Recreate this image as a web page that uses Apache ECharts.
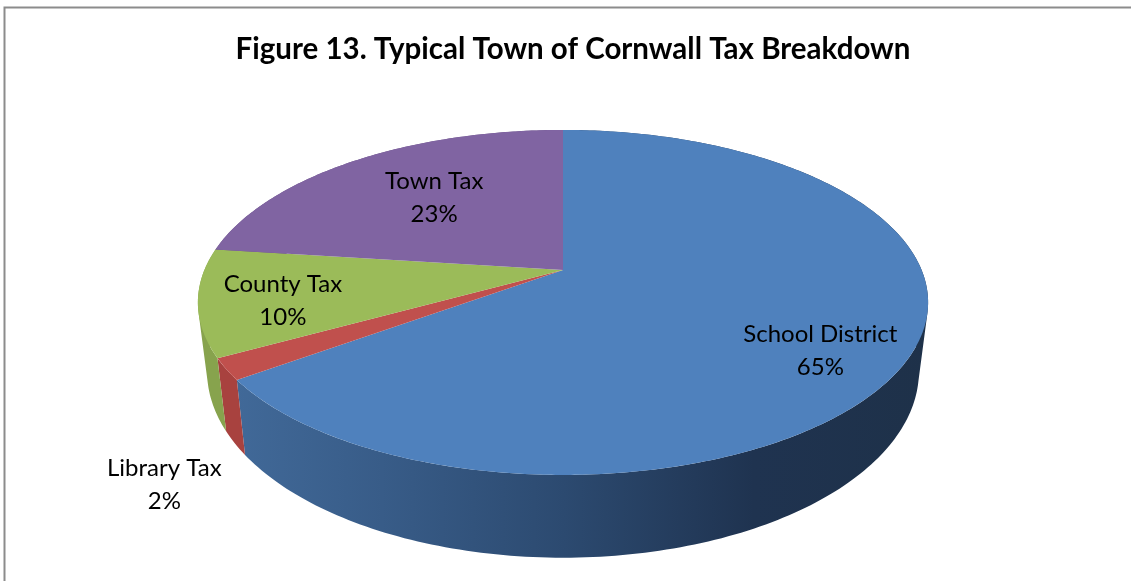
<!DOCTYPE html>
<html>
<head>
<meta charset="utf-8">
<style>html,body{margin:0;padding:0;background:#fff}#chart{width:1131px;height:581px}</style>
<script src="https://cdn.jsdelivr.net/npm/echarts@6/dist/echarts.min.js"></script>
</head>
<body>
<div id="chart"></div>
<script>
// Share of a typical Town of Cornwall tax bill, clockwise from twelve o'clock.
const categories = ['School District', 'Library Tax', 'County Tax', 'Town Tax'];
const shares = [65, 2, 10, 23];
const chartTitle = 'Figure 13. Typical Town of Cornwall Tax Breakdown';

const topColors = ['#4f81bd', '#c0504d', '#9bbb59', '#8064a2'];
const FONT = 'Lato, "Open Sans", sans-serif';

// Perspective disc: top face and the smaller, lower rim of the cylinder.
const view = { cx: 563, k: -0.188 };
const topFace = { y: 270, a: 358.6, b: 166.4 };
const baseFace = { y: 336, a: 349.6, b: 180 };
// Label centre, relative to the rim point at each slice's middle angle.
const labelNudge = [[-92, -2], [-62, 116], [85, -2], [79, 37]];

function project(face, deg) {
  const t = deg * Math.PI / 180;
  const u = Math.sin(t), v = -Math.cos(t), w = 1 + view.k * v;
  return [view.cx + face.a * u / w, face.y + face.b * v / w];
}

function sliceRange(index) {
  let start = 0;
  for (let i = 0; i < index; i++) start += shares[i];
  return [start * 3.6, (start + shares[index]) * 3.6];
}

function wallFill(index) {
  const g = (stops) => new echarts.graphic.LinearGradient(200, 0, 928, 0, stops, true);
  return [
    g([{ offset: 0, color: '#436c9c' }, { offset: 0.25, color: '#385c88' }, { offset: 0.5, color: '#2c4a70' },
       { offset: 0.76, color: '#1f3350' }, { offset: 1, color: '#1e3149' }]),
    '#a8423f',
    '#87a34d',
    '#6b5488'
  ][index];
}

// Rim wall as one path of small quads so the side silhouette stays straight.
function wallPath(index) {
  const [a0, a1] = sliceRange(index);
  const steps = Math.max(2, Math.ceil(a1 - a0));
  let d = '';
  for (let i = 0; i < steps; i++) {
    const s = a0 + (a1 - a0) * i / steps;
    const e = a0 + (a1 - a0) * (i + 1) / steps;
    const q = [project(topFace, s), project(topFace, e), project(baseFace, e), project(baseFace, s)];
    let area = 0;
    q.forEach((p, j) => {
      const n = q[(j + 1) % 4];
      area += p[0] * n[1] - n[0] * p[1];
    });
    if (area < 0) q.reverse();
    d += 'M' + q.map((p) => p[0].toFixed(2) + ' ' + p[1].toFixed(2)).join('L') + 'Z';
  }
  return d;
}

function topPoints(index) {
  const [a0, a1] = sliceRange(index);
  const pts = [[view.cx, topFace.y]];
  const steps = Math.max(2, Math.ceil((a1 - a0) * 2));
  for (let i = 0; i <= steps; i++) pts.push(project(topFace, a0 + (a1 - a0) * i / steps));
  return pts;
}

const rows = categories.map((name, i) => [i, shares[i], name]);

const chart = echarts.init(document.getElementById('chart'), null, { renderer: 'canvas' });
chart.setOption({
  animation: false,
  backgroundColor: '#ffffff',
  title: {
    text: chartTitle,
    left: 568,
    top: 29,
    textAlign: 'center',
    textStyle: { fontFamily: FONT, fontSize: 29.5, fontWeight: 'bold', color: '#000' }
  },
  graphic: [
    { type: 'polyline', shape: { points: [[4.5, 581], [4.5, 7.5], [1131, 7.5]] },
      style: { stroke: '#8c8c8c', lineWidth: 2, fill: null } }
  ],
  series: [
    {
      type: 'custom',
      coordinateSystem: 'none',
      z: 1,
      data: rows,
      renderItem(params, api) {
        const i = api.value(0);
        return {
          type: 'path',
          shape: { pathData: wallPath(i) },
          style: { fill: wallFill(i) }
        };
      }
    },
    {
      type: 'custom',
      coordinateSystem: 'none',
      z: 2,
      data: rows,
      renderItem(params, api) {
        const i = api.value(0);
        return {
          type: 'polygon',
          shape: { points: topPoints(i) },
          style: { fill: topColors[i] }
        };
      }
    },
    {
      type: 'custom',
      coordinateSystem: 'none',
      z: 3,
      data: rows,
      renderItem(params, api) {
        const i = api.value(0);
        const [a0, a1] = sliceRange(i);
        const rim = project(topFace, (a0 + a1) / 2);
        return {
          type: 'text',
          x: rim[0] + labelNudge[i][0],
          y: rim[1] + labelNudge[i][1],
          style: {
            text: categories[i] + '\n' + api.value(1) + '%',
            fontFamily: FONT,
            fontSize: 24,
            lineHeight: 33,
            fill: '#000',
            align: 'center',
            verticalAlign: 'middle'
          }
        };
      }
    }
  ]
});
</script>
</body>
</html>
